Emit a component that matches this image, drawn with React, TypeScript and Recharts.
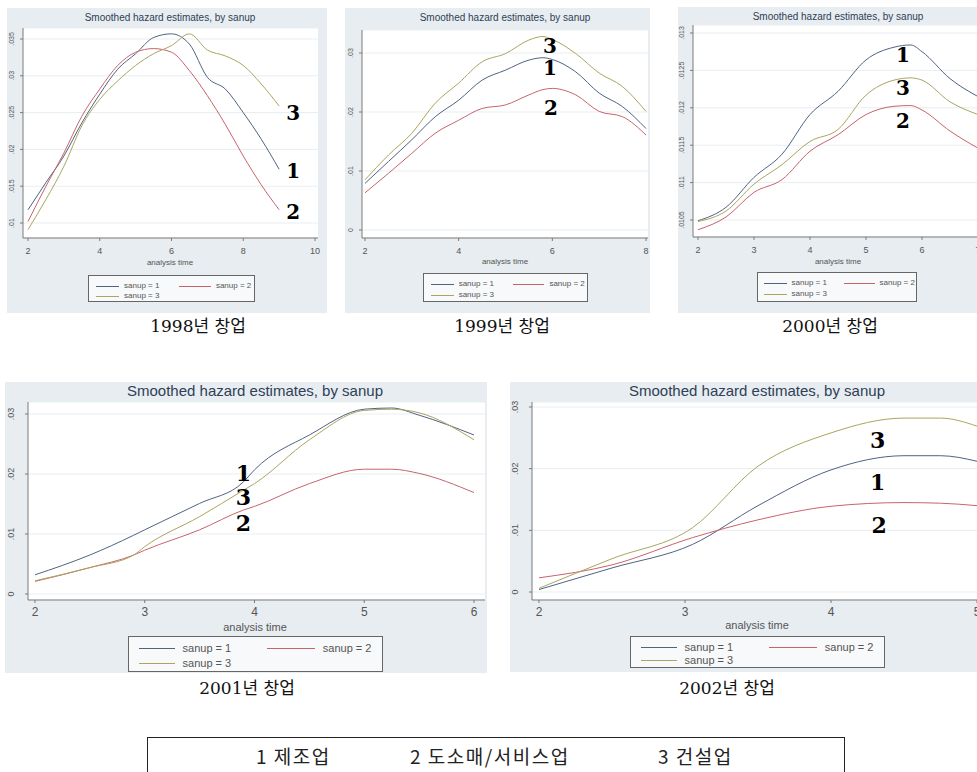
import React from 'react';
import { LineChart, Line, XAxis, YAxis, CartesianGrid, ReferenceDot } from 'recharts';

// ---------- data ----------
const seriesNames = ['sanup = 1', 'sanup = 2', 'sanup = 3'];
const seriesColors = ['#4f6383', '#c8636d', '#aba55e'];
const panelTitle = 'Smoothed hazard estimates, by sanup';
const xAxisTitle = 'analysis time';

// 1998
const t1998 = [2, 2.5, 3, 3.5, 4, 4.5, 5, 5.5, 6, 6.5, 7, 7.5, 8, 8.5, 9];
const s1_1998 = [0.0118, 0.0155, 0.0191, 0.0236, 0.0275, 0.0309, 0.033, 0.0352, 0.0357, 0.0343, 0.0298, 0.0282, 0.025, 0.0214, 0.0173];
const s2_1998 = [0.0102, 0.015, 0.0195, 0.0245, 0.0282, 0.0314, 0.0332, 0.0337, 0.0332, 0.0307, 0.0273, 0.0234, 0.0191, 0.0152, 0.0118];
const s3_1998 = [0.0091, 0.0132, 0.0177, 0.0232, 0.0268, 0.0293, 0.0314, 0.033, 0.0341, 0.0357, 0.0335, 0.0327, 0.0314, 0.0289, 0.0259];
const xTicks1998 = [2, 4, 6, 8, 10];
const yTicks1998 = [0.01, 0.015, 0.02, 0.025, 0.03, 0.035];
const marks1998 = [
  { t: 9.39, v: 0.025, text: '3' },
  { t: 9.39, v: 0.017, text: '1' },
  { t: 9.39, v: 0.0115, text: '2' },
];

// 1999
const t1999 = [2, 2.5, 3, 3.5, 4, 4.5, 5, 5.5, 5.8, 6, 6.5, 7, 7.5, 8];
const s1_1999 = [0.0079, 0.0116, 0.0153, 0.0192, 0.022, 0.0254, 0.0271, 0.0288, 0.0292, 0.0289, 0.0268, 0.0232, 0.0209, 0.0172];
const s2_1999 = [0.0063, 0.0096, 0.013, 0.0164, 0.0186, 0.0206, 0.0212, 0.0229, 0.0238, 0.024, 0.0229, 0.0201, 0.0192, 0.0161];
const s3_1999 = [0.0085, 0.0127, 0.0164, 0.0215, 0.0249, 0.0285, 0.0299, 0.0322, 0.0328, 0.0323, 0.0299, 0.0266, 0.0243, 0.0201];
const xTicks1999 = [2, 4, 6, 8];
const yTicks1999 = [0, 0.01, 0.02, 0.03];
const marks1999 = [
  { t: 5.95, v: 0.0312, text: '3' },
  { t: 5.95, v: 0.0274, text: '1' },
  { t: 5.97, v: 0.0207, text: '2' },
];

// 2000
const t2000 = [2, 2.5, 3, 3.5, 4, 4.5, 5, 5.5, 5.8, 6, 6.5, 7];
const s1_2000 = [0.01049, 0.01067, 0.01107, 0.01138, 0.01191, 0.01222, 0.01264, 0.01281, 0.01284, 0.01275, 0.01239, 0.01215];
const s2_2000 = [0.01037, 0.01054, 0.01087, 0.01104, 0.01142, 0.01164, 0.01191, 0.01202, 0.01203, 0.01197, 0.01169, 0.01146];
const s3_2000 = [0.01048, 0.01062, 0.01098, 0.01124, 0.01155, 0.01171, 0.01217, 0.01237, 0.0124, 0.01237, 0.01208, 0.01191];
const xTicks2000 = [2, 3, 4, 5, 6, 7];
const yTicks2000 = [0.0105, 0.011, 0.0115, 0.012, 0.0125, 0.013];
const marks2000 = [
  { t: 5.66, v: 0.0127, text: '1' },
  { t: 5.66, v: 0.01226, text: '3' },
  { t: 5.66, v: 0.01183, text: '2' },
];

// 2001
const t2001 = [2, 2.5, 2.9, 3, 3.5, 3.9, 4, 4.5, 5, 5.25, 5.5, 6];
const s1_2001 = [0.0032, 0.0065, 0.0098, 0.0107, 0.0151, 0.0187, 0.0207, 0.0265, 0.0308, 0.031, 0.0298, 0.0265];
const s2_2001 = [0.0021, 0.0044, 0.0065, 0.0073, 0.0107, 0.014, 0.0146, 0.0184, 0.0208, 0.0208, 0.0201, 0.0169];
const s3_2001 = [0.0022, 0.0044, 0.0065, 0.0079, 0.0129, 0.0173, 0.0184, 0.0257, 0.0306, 0.0308, 0.0302, 0.0257];
const xTicks2001 = [2, 3, 4, 5, 6];
const yTicks2001 = [0, 0.01, 0.02, 0.03];
const marks2001 = [
  { t: 3.9, v: 0.0202, text: '1' },
  { t: 3.9, v: 0.0162, text: '3' },
  { t: 3.9, v: 0.0118, text: '2' },
];

// 2002
const t2002 = [2, 2.5, 3.05, 3.5, 4, 4.5, 4.75, 5];
const s1_2002 = [0.0004, 0.0039, 0.0077, 0.014, 0.0198, 0.0221, 0.0221, 0.0212];
const s2_2002 = [0.0023, 0.0044, 0.0088, 0.0117, 0.0139, 0.0145, 0.0144, 0.014];
const s3_2002 = [0.0006, 0.0054, 0.0104, 0.0204, 0.0258, 0.0282, 0.0282, 0.0269];
const xTicks2002 = [2, 3, 4, 5];
const yTicks2002 = [0, 0.01, 0.02, 0.03];
const marks2002 = [
  { t: 4.32, v: 0.0247, text: '3' },
  { t: 4.32, v: 0.0179, text: '1' },
  { t: 4.33, v: 0.0109, text: '2' },
];

const captions = ['1998년 창업', '1999년 창업', '2000년 창업', '2001년 창업', '2002년 창업'];
const industryKey = ['1 제조업', '2 도소매/서비스업', '3 건설업'];

// ---------- helpers ----------
const buildRows = (t: number[], a: number[], b: number[], c: number[]) =>
  t.map((x, i) => ({ t: x, s1: a[i], s2: b[i], s3: c[i] }));

const fmtY = (v: number) => (v === 0 ? '0' : String(v).replace(/^0\./, '.'));

// extend a tick range so that its end ticks sit padLo / padHi pixels inside the plot edge
const padDomain = (lo: number, hi: number, span: number, padLo: number, padHi: number): [number, number] => {
  const k = (hi - lo) / (span - padLo - padHi);
  return [lo - padLo * k, hi + padHi * k];
};

const SANS = "'Liberation Sans', Arial, sans-serif";
const SERIF = "'DejaVu Serif', 'Noto Sans CJK KR', serif";
const PANEL_BG = '#e7edf0';

function RotTick(props: any) {
  const { x, y, payload, fs } = props;
  return (
    <text
      x={x}
      y={y}
      transform={`rotate(-90 ${x} ${y})`}
      textAnchor="middle"
      fontSize={fs}
      fill="#555"
      fontFamily={SANS}
    >
      {fmtY(payload.value)}
    </text>
  );
}

type PanelProps = {
  box: { x: number; y: number; w: number; h: number };
  plot: { l: number; t: number; r: number; b: number };
  chartW: number;
  data: any[];
  xRange: [number, number];
  xTicks: number[];
  xPad: { left: number; right: number };
  yRange: [number, number];
  yTicks: number[];
  yPad: { top: number; bottom: number };
  title: { cx: number; cy: number; fs: number };
  xTitle: { cx: number; cy: number; fs: number };
  legend: { l: number; t: number; w: number; h: number; fs: number; r1: number; r2: number };
  marks: { t: number; v: number; text: string }[];
  markFs: number;
  xFs: number;
  yFs: number;
  xMargin: number;
  yMargin: number;
};

function Panel(p: PanelProps) {
  const { box, plot } = p;
  const xAxisH = 30;
  const xDomain = padDomain(p.xRange[0], p.xRange[1], plot.r - plot.l, p.xPad.left, p.xPad.right);
  const yDomain = padDomain(p.yRange[0], p.yRange[1], plot.b - plot.t, p.yPad.bottom, p.yPad.top);
  return (
    <div
      style={{
        position: 'absolute',
        left: box.x,
        top: box.y,
        width: box.w,
        height: box.h,
        background: PANEL_BG,
        overflow: 'hidden',
      }}
    >
      <div style={{ position: 'absolute', left: 0, top: 0 }}>
        <LineChart
          width={p.chartW}
          height={plot.b + xAxisH}
          data={p.data}
          margin={{ top: plot.t, right: p.chartW - plot.r, bottom: 0, left: 0 }}
        >
          <CartesianGrid vertical={false} stroke="#e9edf0" fill="#ffffff" />
          <XAxis
            dataKey="t"
            type="number"
            domain={xDomain}
            ticks={p.xTicks}
            interval={0}
            height={xAxisH}
            allowDataOverflow
            axisLine={{ stroke: '#7a7a7a' }}
            tickLine={{ stroke: '#7a7a7a' }}
            tickSize={3}
            tickMargin={p.xMargin}
            tick={{ fontSize: p.xFs, fill: '#555', fontFamily: SANS }}
          />
          <YAxis
            type="number"
            domain={yDomain}
            ticks={p.yTicks}
            interval={0}
            width={plot.l}
            allowDataOverflow
            axisLine={{ stroke: '#7a7a7a' }}
            tickLine={{ stroke: '#7a7a7a' }}
            tickSize={3}
            tickMargin={p.yMargin}
            tick={(tp: any) => <RotTick {...tp} fs={p.yFs} />}
          />
          <Line type="monotone" dataKey="s1" stroke={seriesColors[0]} strokeWidth={1} dot={false} isAnimationActive={false} />
          <Line type="monotone" dataKey="s2" stroke={seriesColors[1]} strokeWidth={1} dot={false} isAnimationActive={false} />
          <Line type="monotone" dataKey="s3" stroke={seriesColors[2]} strokeWidth={1} dot={false} isAnimationActive={false} />
          {p.marks.map((m, i) => (
            <ReferenceDot
              key={i}
              x={m.t}
              y={m.v}
              r={0}
              ifOverflow="visible"
              shape={(sp: any) => (
                <text
                  x={sp.cx}
                  y={sp.cy}
                  textAnchor="middle"
                  dominantBaseline="central"
                  fontSize={p.markFs}
                  fontWeight="bold"
                  fontFamily={SERIF}
                  fill="#000"
                >
                  {m.text}
                </text>
              )}
            />
          ))}
        </LineChart>
      </div>
      <div
        style={{
          position: 'absolute',
          left: p.title.cx,
          top: p.title.cy,
          transform: 'translate(-50%, -50%)',
          fontFamily: SANS,
          fontSize: p.title.fs,
          color: '#2f4057',
          whiteSpace: 'nowrap',
          lineHeight: 1,
        }}
      >
        {panelTitle}
      </div>
      <div
        style={{
          position: 'absolute',
          left: p.xTitle.cx,
          top: p.xTitle.cy,
          transform: 'translate(-50%, -50%)',
          fontFamily: SANS,
          fontSize: p.xTitle.fs,
          color: '#555',
          whiteSpace: 'nowrap',
          lineHeight: 1,
        }}
      >
        {xAxisTitle}
      </div>
      <div
        style={{
          position: 'absolute',
          left: p.legend.l,
          top: p.legend.t,
          width: p.legend.w,
          height: p.legend.h,
          border: '1px solid #666',
          background: '#f7f9fa',
          boxSizing: 'border-box',
        }}
      >
        {seriesNames.map((name, i) => {
          const col = i === 1 ? 1 : 0;
          const row = i === 2 ? 1 : 0;
          const w = p.legend.w;
          const ls = col === 0 ? 0.04 * w : 0.54 * w;
          const le = col === 0 ? 0.18 * w : 0.73 * w;
          const tx = col === 0 ? 0.21 * w : 0.76 * w;
          const cy = row === 0 ? p.legend.r1 : p.legend.r2;
          return (
            <React.Fragment key={name}>
              <div
                style={{
                  position: 'absolute',
                  left: ls,
                  top: cy,
                  width: le - ls,
                  height: 0,
                  borderTop: `1px solid ${seriesColors[i]}`,
                }}
              />
              <div
                style={{
                  position: 'absolute',
                  left: tx,
                  top: cy,
                  transform: 'translateY(-50%)',
                  fontFamily: SANS,
                  fontSize: p.legend.fs,
                  color: '#555',
                  whiteSpace: 'nowrap',
                  lineHeight: 1,
                }}
              >
                {name}
              </div>
            </React.Fragment>
          );
        })}
      </div>
    </div>
  );
}

const captionPos = [
  { cx: 198, cy: 326 },
  { cx: 502, cy: 326 },
  { cx: 830, cy: 326 },
  { cx: 247, cy: 688 },
  { cx: 727, cy: 688 },
];

export default function App() {
  const small = { markFs: 20, xFs: 9, yFs: 7, xMargin: 7, yMargin: 6 };
  const big = { markFs: 22, xFs: 12, yFs: 9, xMargin: 4, yMargin: 11 };
  return (
    <div style={{ position: 'relative', width: 977, height: 772, overflow: 'hidden', background: '#fff' }}>
      <style>{'body{margin:0}'}</style>
      <Panel
        box={{ x: 7, y: 8, w: 320, h: 305 }}
        plot={{ l: 16, t: 20, r: 311, b: 230 }}
        chartW={320}
        data={buildRows(t1998, s1_1998, s2_1998, s3_1998)}
        xRange={[2, 10]}
        xTicks={xTicks1998}
        xPad={{ left: 5, right: 3 }}
        yRange={[0.01, 0.035]}
        yTicks={yTicks1998}
        yPad={{ top: 11, bottom: 15 }}
        title={{ cx: 163, cy: 10, fs: 10 }}
        xTitle={{ cx: 163, cy: 255, fs: 8 }}
        legend={{ l: 81, t: 267, w: 167, h: 27, fs: 8, r1: 10, r2: 20 }}
        marks={marks1998}
        {...small}
      />
      <Panel
        box={{ x: 345, y: 8, w: 305, h: 305 }}
        plot={{ l: 17, t: 22, r: 303, b: 230 }}
        chartW={305}
        data={buildRows(t1999, s1_1999, s2_1999, s3_1999)}
        xRange={[2, 8]}
        xTicks={xTicks1999}
        xPad={{ left: 3, right: 2 }}
        yRange={[0, 0.03]}
        yTicks={yTicks1999}
        yPad={{ top: 23, bottom: 8 }}
        title={{ cx: 160, cy: 10, fs: 10 }}
        xTitle={{ cx: 160, cy: 254, fs: 8 }}
        legend={{ l: 78, t: 265, w: 165, h: 29, fs: 8, r1: 10, r2: 21 }}
        marks={marks1999}
        {...small}
      />
      <Panel
        box={{ x: 678, y: 7, w: 299, h: 306 }}
        plot={{ l: 15, t: 18, r: 312, b: 230 }}
        chartW={330}
        data={buildRows(t2000, s1_2000, s2_2000, s3_2000)}
        xRange={[2, 7]}
        xTicks={xTicks2000}
        xPad={{ left: 5, right: 12 }}
        yRange={[0.0105, 0.013]}
        yTicks={yTicks2000}
        yPad={{ top: 8, bottom: 17 }}
        title={{ cx: 160, cy: 10, fs: 10 }}
        xTitle={{ cx: 160, cy: 255, fs: 8 }}
        legend={{ l: 79, t: 265, w: 160, h: 30, fs: 8, r1: 10, r2: 21 }}
        marks={marks2000}
        {...small}
      />
      <Panel
        box={{ x: 5, y: 382, w: 482, h: 291 }}
        plot={{ l: 23, t: 20, r: 480, b: 218 }}
        chartW={482}
        data={buildRows(t2001, s1_2001, s2_2001, s3_2001)}
        xRange={[2, 6]}
        xTicks={xTicks2001}
        xPad={{ left: 7, right: 11 }}
        yRange={[0, 0.03]}
        yTicks={yTicks2001}
        yPad={{ top: 12, bottom: 6 }}
        title={{ cx: 250, cy: 8, fs: 15 }}
        xTitle={{ cx: 250, cy: 245, fs: 11 }}
        legend={{ l: 123, t: 254, w: 255, h: 36, fs: 11, r1: 11, r2: 26 }}
        marks={marks2001}
        {...big}
      />
      <Panel
        box={{ x: 510, y: 382, w: 467, h: 290 }}
        plot={{ l: 22, t: 20, r: 480, b: 218 }}
        chartW={500}
        data={buildRows(t2002, s1_2002, s2_2002, s3_2002)}
        xRange={[2, 5]}
        xTicks={xTicks2002}
        xPad={{ left: 7, right: 13 }}
        yRange={[0, 0.03]}
        yTicks={yTicks2002}
        yPad={{ top: 5, bottom: 8 }}
        title={{ cx: 247, cy: 8, fs: 15 }}
        xTitle={{ cx: 247, cy: 243, fs: 11 }}
        legend={{ l: 120, t: 254, w: 255, h: 32, fs: 11, r1: 10, r2: 23 }}
        marks={marks2002}
        {...big}
      />
      {captions.map((c, i) => (
        <div
          key={c}
          style={{
            position: 'absolute',
            left: captionPos[i].cx,
            top: captionPos[i].cy,
            transform: 'translate(-50%, -50%)',
            fontFamily: SERIF,
            fontSize: 17,
            color: '#111',
            whiteSpace: 'nowrap',
            lineHeight: 1,
          }}
        >
          {c}
        </div>
      ))}
      <div
        style={{
          position: 'absolute',
          left: 147,
          top: 737,
          width: 698,
          height: 60,
          border: '1.5px solid #222',
          boxSizing: 'border-box',
        }}
      />
      {industryKey.map((k, i) => (
        <div
          key={k}
          style={{
            position: 'absolute',
            left: [256, 410, 658][i],
            top: 755,
            transform: 'translateY(-50%)',
            fontFamily: "'Noto Sans CJK KR', sans-serif",
            fontSize: 19,
            letterSpacing: 1.5,
            color: '#222',
            whiteSpace: 'nowrap',
            lineHeight: 1,
          }}
        >
          {k}
        </div>
      ))}
    </div>
  );
}
